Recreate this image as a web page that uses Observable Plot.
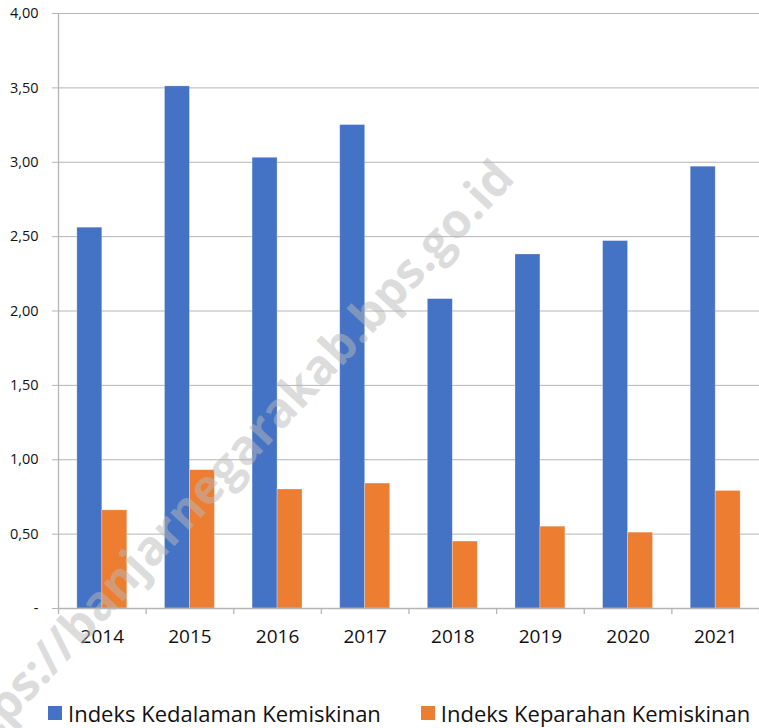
<!DOCTYPE html>
<html>
<head>
<meta charset="utf-8">
<script src="https://cdn.jsdelivr.net/npm/d3@7"></script>
<script src="https://cdn.jsdelivr.net/npm/@observablehq/plot@0.6"></script>
<style>
  html, body { margin: 0; padding: 0; background: #fff; }
  #wrap { position: relative; width: 759px; height: 728px; overflow: hidden; font-family: "Open Sans", sans-serif; }
  #chart { position: absolute; left: 0; top: 0; z-index: 1; }
  #watermark {
    position: absolute; left: 223px; top: 467px; z-index: 3; pointer-events: none;
    transform: translate(-50%, -50%) rotate(-47deg);
    white-space: nowrap; font-family: "Open Sans", sans-serif; font-weight: 700;
    font-size: 48px; color: rgba(185, 185, 185, 0.5);
  }
  #legend {
    position: absolute; left: 48px; top: 699px; z-index: 2;
    display: flex; align-items: center; font-size: 22px; line-height: 28px; color: #111;
  }
  .item { display: flex; align-items: center; }
  .sw { width: 14px; height: 14px; margin-right: 6px; }
</style>
</head>
<body>
<div id="wrap">
  <div id="chart"></div>
  <div id="legend"></div>
  <div id="watermark">https://banjarnegarakab.bps.go.id</div>
</div>
<script>
const years = [2014, 2015, 2016, 2017, 2018, 2019, 2020, 2021];
const kedalaman = [2.56, 3.51, 3.03, 3.25, 2.08, 2.38, 2.47, 2.97];
const keparahan = [0.66, 0.93, 0.80, 0.84, 0.45, 0.55, 0.51, 0.79];
const seriesNames = ["Indeks Kedalaman Kemiskinan", "Indeks Keparahan Kemiskinan"];
const seriesColors = ["#4472C4", "#ED7D31"];
const yTicks = [0, 0.5, 1, 1.5, 2, 2.5, 3, 3.5, 4];
const yTickLabels = ["-", "0,50", "1,00", "1,50", "2,00", "2,50", "3,00", "3,50", "4,00"];

const barW = 0.285; // width of one bar, in category units
const rows = years.flatMap((year, i) => [
  {year, series: seriesNames[0], value: kedalaman[i], k: 0},
  {year, series: seriesNames[1], value: keparahan[i], k: 1}
]);
const boundaries = [...years.map(y => y - 0.5), years[years.length - 1] + 0.5];
const gray = "#b5b5b5";

const chart = Plot.plot({
  width: 759,
  height: 660,
  marginTop: 13,
  marginBottom: 52,
  marginLeft: 58,
  marginRight: 0,
  style: {fontFamily: "'Open Sans', sans-serif", background: "transparent", color: "#111"},
  x: {type: "linear", domain: [boundaries[0], boundaries[boundaries.length - 1]], axis: null},
  y: {domain: [0, 4], axis: null},
  color: {domain: seriesNames, range: seriesColors},
  marks: [
    Plot.gridY(yTicks, {stroke: gray, strokeOpacity: 1, strokeWidth: 1}),
    Plot.axisY(yTicks, {
      tickSize: 6, tickPadding: 14, stroke: gray, fill: "#111", fontSize: 14.5,
      tickFormat: d => yTickLabels[yTicks.indexOf(d)], label: null
    }),
    Plot.ruleX([boundaries[0]], {y1: 4, y2: 0, insetBottom: -6, stroke: gray, strokeWidth: 1.3}),
    Plot.ruleX(boundaries.slice(1), {y1: 0, y2: 0, insetBottom: -6, stroke: gray, strokeWidth: 1.3}),
    Plot.rect(rows, {
      x1: d => d.k === 0 ? d.year - barW : d.year,
      x2: d => d.k === 0 ? d.year : d.year + barW,
      y1: 0, y2: "value", fill: "series",
      stroke: "#ffffff", strokeOpacity: 0.35, strokeWidth: 0.8
    }),
    Plot.ruleY([0], {stroke: gray, strokeWidth: 1.3}),
    Plot.axisX(years, {
      tickSize: 0, tickPadding: 21, fontSize: 19, fill: "#111",
      tickFormat: d => String(d), label: null
    })
  ]
});
document.getElementById("chart").appendChild(chart);

const legend = document.getElementById("legend");
seriesNames.forEach((name, i) => {
  const item = document.createElement("div");
  item.className = "item";
  if (i > 0) item.style.marginLeft = "40px";
  const sw = document.createElement("div");
  sw.className = "sw";
  sw.style.background = seriesColors[i];
  const t = document.createElement("span");
  t.textContent = name;
  item.appendChild(sw);
  item.appendChild(t);
  legend.appendChild(item);
});
</script>
</body>
</html>
